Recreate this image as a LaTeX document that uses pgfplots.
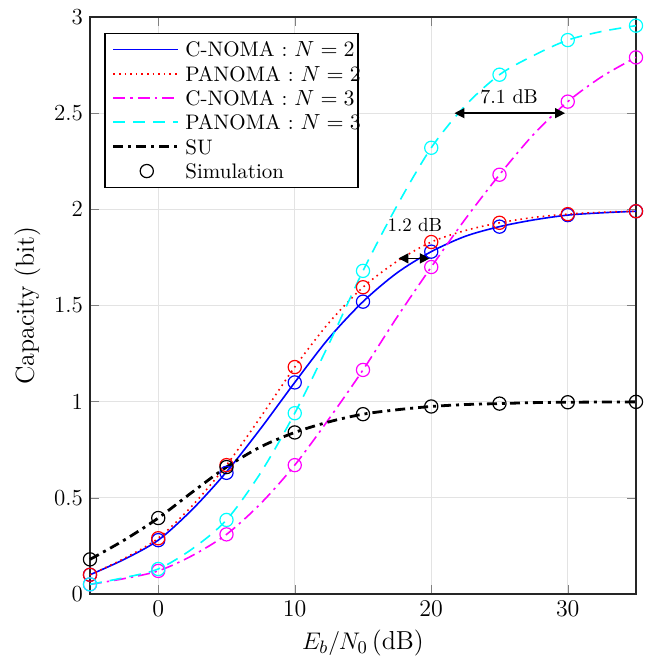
\documentclass[border=0pt]{standalone}
\usepackage{pgfplots}
\pgfplotsset{compat=1.18}
\usetikzlibrary{arrows.meta}
\definecolor{matblue}{rgb}{0,0,1}
\definecolor{matred}{rgb}{1,0,0}
\definecolor{matmag}{rgb}{1,0,1}
\definecolor{matcyan}{rgb}{0,1,1}
\tikzset{
  sblue/.style={draw=matblue, line width=0.8pt, solid},
  sred/.style={draw=matred, line width=0.8pt, dotted},
  smag/.style={draw=matmag, line width=0.8pt, dash pattern=on 6pt off 2.5pt on 1.2pt off 2.5pt},
  scyan/.style={draw=matcyan, line width=0.8pt, dash pattern=on 6pt off 4pt},
  sblack/.style={draw=black, line width=1.4pt, dash pattern=on 5pt off 2.5pt on 1.5pt off 2.5pt},
}
\begin{document}
\begin{tikzpicture}
\useasboundingbox (-45pt,-37.5pt) rectangle (280pt,297pt);
\begin{axis}[
  scale only axis, width=273pt, height=288.5pt,
  xmin=-5, xmax=35, ymin=0, ymax=3,
  xtick={0,10,20,30}, ytick={0,0.5,1,1.5,2,2.5,3},
  yticklabels={0,0.5,1,1.5,2,2.5,3},
  tick align=inside, tick pos=both,
  grid=major, grid style={gray!22, line width=0.5pt},
  axis line style={line width=0.6pt, black!85},
  ticklabel style={font=\fontsize{11.5}{13}\selectfont},
  xlabel={$E_b/N_0\,$(dB)}, ylabel={Capacity (bit)},
  label style={font=\fontsize{13}{15}\selectfont},
  clip=false,
]
% lines
\addplot[sblue, smooth] coordinates {(-5,0.10)(-2.5,0.18)(0,0.28)(2.5,0.44)(5,0.635)(7.5,0.86)(10,1.10)(12.5,1.33)(15,1.52)(17.5,1.67)(20,1.78)(22.5,1.86)(25,1.91)(27.5,1.945)(30,1.97)(32.5,1.982)(35,1.99)};
\addplot[sred, smooth] coordinates {(-5,0.10)(-2.5,0.185)(0,0.29)(2.5,0.46)(5,0.67)(7.5,0.92)(10,1.18)(12.5,1.41)(15,1.595)(17.5,1.73)(20,1.83)(22.5,1.89)(25,1.93)(27.5,1.958)(30,1.975)(32.5,1.985)(35,1.99)};
\addplot[smag, smooth] coordinates {(-5,0.05)(-2.5,0.08)(0,0.12)(2.5,0.2)(5,0.31)(7.5,0.47)(10,0.67)(12.5,0.91)(15,1.165)(17.5,1.44)(20,1.70)(22.5,1.95)(25,2.18)(27.5,2.39)(30,2.56)(32.5,2.69)(35,2.79)};
\addplot[scyan, smooth] coordinates {(-5,0.05)(-2.5,0.085)(0,0.13)(2.5,0.235)(5,0.385)(7.5,0.63)(10,0.94)(12.5,1.30)(15,1.68)(17.5,2.02)(20,2.32)(22.5,2.54)(25,2.70)(27.5,2.80)(30,2.88)(32.5,2.925)(35,2.955)};
\addplot[sblack, smooth] coordinates {(-5,0.18)(-2.5,0.28)(0,0.395)(2.5,0.53)(5,0.66)(7.5,0.765)(10,0.84)(12.5,0.895)(15,0.935)(17.5,0.958)(20,0.975)(22.5,0.985)(25,0.99)(27.5,0.995)(30,0.997)(32.5,0.998)(35,0.999)};
% markers
\addplot[only marks, mark=o, draw=matblue, mark size=3.3pt, line width=0.6pt] coordinates {(-5,0.10)(0,0.28)(5,0.63)(10,1.10)(15,1.52)(20,1.78)(25,1.91)(30,1.97)(35,1.99)};
\addplot[only marks, mark=o, draw=matred, mark size=3.3pt, line width=0.6pt] coordinates {(-5,0.10)(0,0.29)(5,0.67)(10,1.18)(15,1.595)(20,1.83)(25,1.93)(30,1.975)(35,1.99)};
\addplot[only marks, mark=o, draw=matmag, mark size=3.3pt, line width=0.6pt] coordinates {(-5,0.05)(0,0.12)(5,0.31)(10,0.67)(15,1.165)(20,1.70)(25,2.18)(30,2.56)(35,2.79)};
\addplot[only marks, mark=o, draw=matcyan, mark size=3.3pt, line width=0.6pt] coordinates {(-5,0.05)(0,0.13)(5,0.385)(10,0.94)(15,1.68)(20,2.32)(25,2.70)(30,2.88)(35,2.955)};
\addplot[only marks, mark=o, draw=black, mark size=3.3pt, line width=0.6pt] coordinates {(-5,0.18)(0,0.395)(5,0.66)(10,0.84)(15,0.935)(20,0.975)(25,0.99)(30,0.997)(35,0.999)};
% annotations
\draw[{Triangle[length=5pt,width=5pt]}-{Triangle[length=5pt,width=5pt]}, line width=0.7pt] (axis cs:21.7,2.5) -- (axis cs:29.8,2.5);
\node[font=\fontsize{10}{11}\selectfont, above] at (axis cs:25.7,2.51) {7.1 dB};
\draw[{Triangle[length=5pt,width=5pt]}-{Triangle[length=5pt,width=5pt]}, line width=0.7pt] (axis cs:17.6,1.745) -- (axis cs:19.9,1.745);
\node[font=\fontsize{9.5}{10}\selectfont] at (axis cs:18.8,1.92) {1.2 dB};
% legend
\draw[fill=white, draw=black, line width=0.6pt] (axis description cs:0.0275,0.972) rectangle (axis description cs:0.491,0.705);
\draw[sblue]  (axis description cs:0.043,0.944) -- (axis description cs:0.162,0.944);
\draw[sred]   (axis description cs:0.043,0.901) -- (axis description cs:0.162,0.901);
\draw[smag]   (axis description cs:0.043,0.860) -- (axis description cs:0.162,0.860);
\draw[scyan]  (axis description cs:0.043,0.818) -- (axis description cs:0.162,0.818);
\draw[sblack] (axis description cs:0.043,0.775) -- (axis description cs:0.162,0.775);
\draw[black, line width=0.6pt] (axis description cs:0.104,0.733) circle (3.3pt);
\begin{scope}[every node/.style={anchor=west, inner sep=0pt, font=\fontsize{10.5}{12}\selectfont}]
\node at (axis description cs:0.174,0.944) {C-NOMA : $N=2$};
\node at (axis description cs:0.174,0.901) {PANOMA : $N=2$};
\node at (axis description cs:0.174,0.860) {C-NOMA : $N=3$};
\node at (axis description cs:0.174,0.818) {PANOMA : $N=3$};
\node at (axis description cs:0.174,0.775) {SU};
\node at (axis description cs:0.174,0.733) {Simulation};
\end{scope}
\end{axis}
\end{tikzpicture}
\end{document}
